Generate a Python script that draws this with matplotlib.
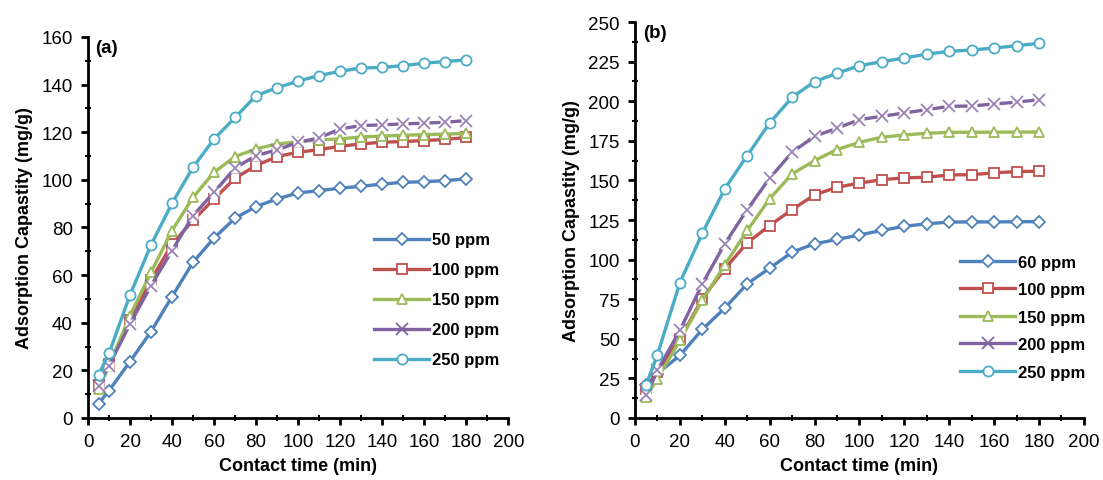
import matplotlib
matplotlib.use("Agg")
import matplotlib.pyplot as plt
from matplotlib.ticker import MultipleLocator

plt.rcParams['font.family'] = ['Liberation Sans', 'DejaVu Sans']

# contact time (min)
time = [5, 10, 20, 30, 40, 50, 60, 70, 80, 90, 100, 110, 120, 130, 140, 150, 160, 170, 180]

# panel (a)
labels_a = ["50 ppm", "100 ppm", "150 ppm", "200 ppm", "250 ppm"]
a_50 = [6, 11.5, 23.7, 36.3, 51, 65.4, 75.6, 83.9, 88.8, 92, 94.5, 95.5, 96.5, 97.3, 98.2, 99, 99.2, 99.7, 100.4]
a_100 = [14, 22.5, 41, 58, 73, 83, 92, 100.7, 106, 109.8, 111.6, 112.7, 114.1, 115.1, 115.8, 116.1, 116.5, 117, 117.8]
a_150 = [12.2, 22, 43, 61.2, 78.7, 92.7, 103.2, 109.8, 113, 115.1, 116, 116.8, 117.2, 118, 118.4, 118.7, 119, 119.2, 119.5]
a_200 = [13.6, 22, 39.5, 55.6, 70.3, 85, 94.8, 105, 110.2, 112.6, 115.8, 117.6, 121.4, 122.8, 123.1, 123.5, 123.8, 124.2, 124.9]
a_250 = [18, 27.2, 51.7, 72.7, 90.2, 105.3, 117.2, 126.2, 135.4, 138.7, 141.5, 143.8, 145.6, 147, 147.2, 148, 149, 149.7, 150.4]

# panel (b)
labels_b = ["60 ppm", "100 ppm", "150 ppm", "200 ppm", "250 ppm"]
b_60 = [20.6, 28, 39.5, 55.9, 69.4, 84.7, 94.6, 104.7, 110, 112.7, 115.6, 118.4, 121.1, 122.6, 123.7, 123.8, 123.8, 123.9, 124]
b_100 = [18, 29, 50, 75.3, 94.2, 110.6, 121.5, 131.6, 140.9, 145.7, 148.3, 150.5, 151.6, 152, 153.5, 153.6, 154.8, 155.6, 155.8]
b_150 = [13.5, 24.8, 49, 74.2, 96.7, 118.4, 138.4, 154.1, 162.5, 169.5, 174.1, 177.3, 178.7, 179.8, 180.4, 180.4, 180.5, 180.5, 180.6]
b_200 = [14.3, 30, 55.3, 84.7, 110, 131.6, 151.4, 167.8, 177.9, 183, 188.4, 190.5, 192.6, 194.7, 196.8, 197, 198.3, 199.4, 201]
b_250 = [21, 40, 85.4, 116.7, 144.7, 165.7, 186.3, 202.5, 212.4, 217.7, 222.5, 225, 227.3, 229.8, 231.5, 232.4, 233.6, 235.1, 236.6]

colors = ['#4F81BD', '#C0504D', '#9BBB59', '#8064A2', '#4BACC6']
markers = ['D', 's', '^', 'x', 'o']
msizes = [5.8, 6.8, 6.8, 8.5, 7.3]


def draw_panel(ax, series, labels, ymax, ystep, tag, leg_xy, leg_space):
    for i, (vals, lab) in enumerate(zip(series, labels)):
        if markers[i] == 'x':
            # solid line, white patch under the X (Excel style gap)
            ax.plot(time, vals, color=colors[i], lw=2.4, zorder=2 + i)
            ax.plot(time, vals, ls='none', marker='s', ms=7, mfc='white', mec='none', zorder=2 + i)
            ax.plot(time, vals, ls='none', marker='x', ms=msizes[i], mew=1.3,
                    color=colors[i], alpha=0.8, zorder=2 + i)
            ax.plot([], [], color=colors[i], lw=2.4, marker='x', ms=msizes[i], mew=1.3, label=lab)
        else:
            ax.plot(time, vals, color=colors[i], lw=2.4, marker=markers[i], ms=msizes[i],
                    mfc='white', mec=colors[i], mew=1.3, label=lab, zorder=2 + i)

    ax.set_xlim(0, 200)
    ax.set_ylim(0, ymax)
    ax.xaxis.set_major_locator(MultipleLocator(20))
    ax.xaxis.set_minor_locator(MultipleLocator(10))
    ax.yaxis.set_major_locator(MultipleLocator(ystep))
    ax.yaxis.set_minor_locator(MultipleLocator(ystep / 2))
    ax.spines['top'].set_visible(False)
    ax.spines['right'].set_visible(False)
    for s in ['left', 'bottom']:
        ax.spines[s].set_linewidth(2)
    ax.tick_params(which='major', direction='out', length=5, width=2, labelsize=13.5, pad=6)
    ax.tick_params(which='minor', direction='inout', length=5, width=1.5)
    ax.set_xlabel("Contact time (min)", fontsize=13, fontweight='bold', labelpad=5)
    ax.set_ylabel("Adsorption Capastity (mg/g)", fontsize=13, fontweight='bold', labelpad=6)
    ax.text(0.017, 0.995, tag, transform=ax.transAxes, fontsize=13.5, fontweight='bold',
            va='top', ha='left')
    leg = ax.legend(loc='center', bbox_to_anchor=leg_xy, frameon=False,
                    prop={'weight': 'bold', 'size': 12}, handlelength=3.3,
                    handletextpad=0.2, labelspacing=leg_space)
    return leg


fig = plt.figure(figsize=(11.03, 4.81), dpi=100)
ax1 = fig.add_axes([0.0798, 0.129, 0.381, 0.792])
ax2 = fig.add_axes([0.5757, 0.129, 0.407, 0.823])

draw_panel(ax1, [a_50, a_100, a_150, a_200, a_250], labels_a, 160, 20, "(a)", (0.83, 0.31), 0.9)
draw_panel(ax2, [b_60, b_100, b_150, b_200, b_250], labels_b, 250, 25, "(b)", (0.864, 0.255), 0.75)

fig.savefig("out.png", dpi=100)
